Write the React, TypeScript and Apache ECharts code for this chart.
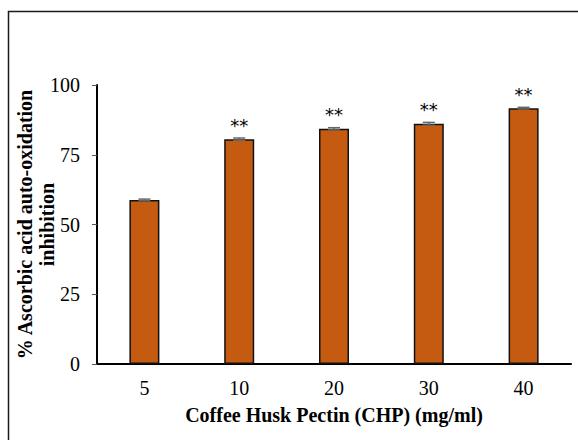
import React, { useEffect, useRef } from "react";
import * as echarts from "echarts";

const categories = ["5", "10", "20", "30", "40"];
const values = [58.8, 80.6, 84.3, 86.1, 91.7];
const errors = [0.3, 0.4, 0.4, 0.5, 0.3];
const significance = ["", "**", "**", "**", "**"];
const yTicks = [0, 25, 50, 75, 100];

export default function App() {
  const ref = useRef<HTMLDivElement>(null);
  useEffect(() => {
    if (!ref.current) return;
    const chart = echarts.init(ref.current, null, { renderer: "svg" });
    const font = "Liberation Serif";
    chart.setOption({
      animation: false,
      backgroundColor: "#ffffff",
      textStyle: { fontFamily: font },
      graphic: [
        {
          type: "rect",
          shape: { x: 8.5, y: 11.5, width: 700, height: 600 },
          style: { fill: "none", stroke: "#1a1a1a", lineWidth: 1.5 },
          silent: true,
        },
      ],
      grid: { left: 97, right: 7, top: 85, bottom: 76, outerBoundsMode: "none", containLabel: false },
      xAxis: {
        type: "category",
        data: categories,
        axisLine: { lineStyle: { color: "#000", width: 2 } },
        axisTick: { alignWithLabel: true, length: 4, lineStyle: { color: "#555" } },
        axisLabel: { color: "#000", fontSize: 20, fontFamily: font, margin: 14 },
        name: "Coffee Husk Pectin (CHP) (mg/ml)",
        nameLocation: "middle",
        nameGap: 41,
        nameMoveOverlap: false,
        nameTextStyle: { color: "#000", fontSize: 20, fontWeight: "bold", fontFamily: font },
      },
      yAxis: {
        type: "value",
        min: yTicks[0],
        max: yTicks[yTicks.length - 1],
        interval: 25,
        splitLine: { show: false },
        axisLine: { show: true, lineStyle: { color: "#000", width: 2 } },
        axisTick: { show: true, length: 5, lineStyle: { color: "#555" } },
        axisLabel: { color: "#000", fontSize: 20, fontFamily: font, margin: 17 },
        name: "% Ascorbic acid auto-oxidation\ninhibition",
        nameLocation: "middle",
        nameGap: 39,
        nameMoveOverlap: false,
        nameTextStyle: {
          color: "#000",
          fontSize: 20,
          fontWeight: "bold",
          fontFamily: font,
          lineHeight: 22,
        },
      },
      series: [
        {
          type: "bar",
          data: values,
          barWidth: 30,
          itemStyle: { color: "#C55A11", borderColor: "#111", borderWidth: 1.5 },
          label: {
            show: true,
            position: "top",
            distance: 5,
            formatter: (p: any) => significance[p.dataIndex],
            color: "#000",
            fontSize: 18,
            fontFamily: "DejaVu Sans",
          },
          z: 2,
        },
        {
          type: "custom",
          z: 3,
          data: values.map((v, i) => [i, v - errors[i], v + errors[i]]),
          renderItem: (params: any, api: any) => {
            const x = api.value(0);
            const lo = api.coord([x, api.value(1)]);
            const hi = api.coord([x, api.value(2)]);
            const hw = 6;
            const style = { stroke: "#666", lineWidth: 1.5 };
            return {
              type: "group",
              children: [
                { type: "line", shape: { x1: lo[0], y1: lo[1], x2: hi[0], y2: hi[1] }, style },
                { type: "line", shape: { x1: lo[0] - hw, y1: lo[1], x2: lo[0] + hw, y2: lo[1] }, style },
                { type: "line", shape: { x1: hi[0] - hw, y1: hi[1], x2: hi[0] + hw, y2: hi[1] }, style },
              ],
            };
          },
        },
      ],
    });
    return () => chart.dispose();
  }, []);
  return (
    <div
      ref={ref}
      style={{ position: "fixed", left: 0, top: 0, width: 578, height: 440 }}
    />
  );
}
